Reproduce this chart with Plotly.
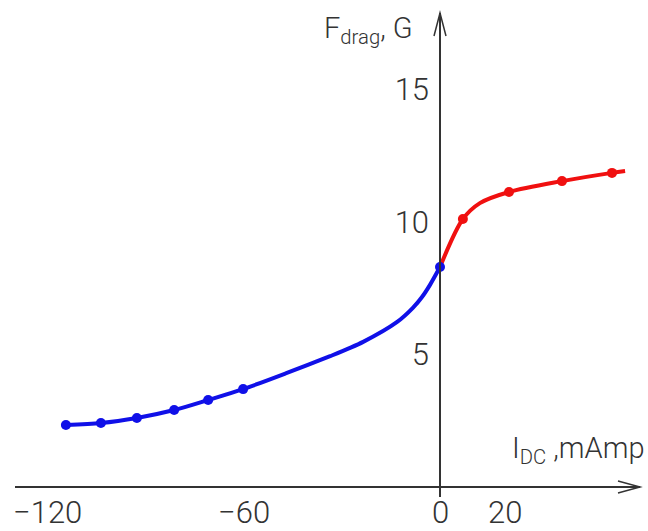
import plotly.graph_objects as go

# ---- data ----
# blue branch (negative current): smooth curve points and measured markers
blue_curve_x = [-114.4, -103.7, -92.7, -81.3, -70.9, -60.2, -46.8, -33.6, -23.5, -13.1, -8.3, -5.5, -3.1, 0]
blue_curve_y = [2.34, 2.41, 2.60, 2.90, 3.28, 3.69, 4.30, 4.93, 5.47, 6.22, 6.75, 7.16, 7.61, 8.29]
blue_pts_x = [-114.4, -103.7, -92.7, -81.3, -70.9, -60.2, 0]
blue_pts_y = [2.34, 2.41, 2.60, 2.90, 3.28, 3.69, 8.29]

# red branch (positive current)
red_curve_x = [0, 7.0, 12.2, 21.1, 37.3, 52.6, 56.6]
red_curve_y = [8.29, 10.10, 10.70, 11.12, 11.53, 11.84, 11.91]
red_pts_x = [7.0, 21.1, 37.3, 52.6]
red_pts_y = [10.10, 11.12, 11.53, 11.84]

x_ticks = [-120, -60, 0, 20]
x_ticktext = ["\u2212120", "\u221260", "0", "20"]
y_ticks = [5, 10, 15]

W, H = 648, 531
FONT = "Roboto, DejaVu Sans, sans-serif"
TXT = "#333333"
BLUE = "#1010e8"
RED = "#f01010"

fig = go.Figure()
fig.add_trace(go.Scatter(x=blue_curve_x, y=blue_curve_y, mode="lines",
                         line=dict(color=BLUE, width=4, shape="spline", smoothing=0.8),
                         hoverinfo="skip", showlegend=False))
fig.add_trace(go.Scatter(x=red_curve_x, y=red_curve_y, mode="lines",
                         line=dict(color=RED, width=4, shape="spline", smoothing=0.9),
                         hoverinfo="skip", showlegend=False))
fig.add_trace(go.Scatter(x=red_pts_x, y=red_pts_y, mode="markers",
                         marker=dict(color=RED, size=10, symbol="circle"), showlegend=False))
fig.add_trace(go.Scatter(x=blue_pts_x, y=blue_pts_y, mode="markers",
                         marker=dict(color=BLUE, size=10, symbol="circle"), showlegend=False))

# pixel geometry of the hand-drawn axes
x0_px, y0_px = 440, 487
sx, sy = 3.27, 26.53
x_left_px, x_right_px = 15, 640
y_top_px, y_bot_px = 13, 497

xr = [(x_left_px - x0_px) / sx, (x_right_px - x0_px) / sx]
yr = [(y0_px - y_bot_px) / sy, (y0_px - y_top_px) / sy]

fig.update_layout(
    width=W, height=H,
    margin=dict(l=0, r=0, t=0, b=0),
    paper_bgcolor="white", plot_bgcolor="rgba(0,0,0,0)",
    font=dict(family=FONT, color=TXT, weight=300),
    xaxis=dict(domain=[x_left_px / W, x_right_px / W], range=xr,
               anchor="free", position=(H - y0_px) / H,
               showline=True, linecolor="#333", linewidth=1.5,
               showgrid=False, zeroline=False, ticks="", showticklabels=False),
    yaxis=dict(domain=[(H - y_bot_px) / H, (H - y_top_px) / H], range=yr,
               anchor="free", position=x0_px / W,
               showline=True, linecolor="#333", linewidth=1.5,
               showgrid=False, zeroline=False, ticks="",
               tickvals=y_ticks, ticklabelstandoff=4,
               tickfont=dict(size=31, family=FONT, color=TXT, weight=300)),
)

# x tick labels placed at their data values on the x scale
for v, t in zip(x_ticks, x_ticktext):
    fig.add_annotation(xref="x", yref="paper", x=v, y=(H - 512) / H,
                       xanchor="center", yanchor="middle", showarrow=False,
                       text=t, font=dict(size=31, family=FONT, color=TXT, weight=300))

# arrowheads (pixel-positioned shapes in paper space)
def p(xp, yp):
    return f"{xp / W:.5f},{(H - yp) / H:.5f}"

fig.add_shape(type="path", xref="paper", yref="paper",
              path=f"M{p(434, 36)} L{p(440, 13)} L{p(446, 36)}",
              line=dict(color="#333", width=1.5))
fig.add_shape(type="path", xref="paper", yref="paper",
              path=f"M{p(618, 481)} L{p(640, 487)} L{p(618, 493)}",
              line=dict(color="#333", width=1.5))

# axis titles
fig.add_annotation(xref="paper", yref="paper", x=322 / W, y=(H - 30) / H,
                   xanchor="left", yanchor="middle", showarrow=False,
                   text="F<sub>drag</sub>, G",
                   font=dict(size=29, family=FONT, color=TXT, weight=300))
fig.add_annotation(xref="paper", yref="paper", x=646 / W, y=(H - 450) / H,
                   xanchor="right", yanchor="middle", showarrow=False,
                   text="I<sub>DC</sub> ,mAmp",
                   font=dict(size=29, family=FONT, color=TXT, weight=300))

fig.write_html("out.html")
